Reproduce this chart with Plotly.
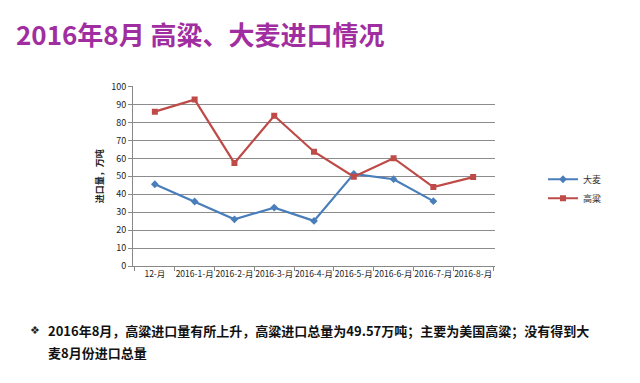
import plotly.graph_objects as go

categories = ["12-月", "2016-1-月", "2016-2-月", "2016-3-月", "2016-4-月",
              "2016-5-月", "2016-6-月", "2016-7-月", "2016-8-月"]
barley = [45.6, 36.0, 26.1, 32.6, 25.2, 51.4, 48.4, 36.2, None]
sorghum = [86.0, 92.7, 57.4, 83.7, 63.7, 49.8, 60.1, 44.0, 49.57]
y_ticks = list(range(0, 101, 10))

W, H = 640, 383
OFF = 8  # page body margin in the browser


def px(x):
    return (x - OFF) / W


def py(y):
    return 1 - (y - OFF) / H


x0, x1 = 133, 495
y_top, y_bot = 82, 268

CJK = "Noto Sans CJK SC"

fig = go.Figure()
fig.add_trace(go.Scatter(
    x=categories, y=barley, name="大麦", mode="lines+markers",
    line=dict(color="#4A7EBB", width=2.2),
    marker=dict(symbol="diamond", size=6, color="#4A7EBB"),
))
fig.add_trace(go.Scatter(
    x=categories, y=sorghum, name="高粱", mode="lines+markers",
    line=dict(color="#BE4B48", width=2.2),
    marker=dict(symbol="square", size=6, color="#BE4B48"),
))

fig.update_layout(
    width=W, height=H,
    margin=dict(l=0, r=0, t=0, b=0),
    paper_bgcolor="white", plot_bgcolor="white",
    font=dict(family=CJK, size=9, color="#333333"),
    xaxis=dict(
        domain=[px(x0), px(x1)],
        type="category", tickson="boundaries",
        showline=True, linecolor="#888888", linewidth=1,
        ticks="outside", ticklen=4, tickcolor="#888888",
        showgrid=False, tickfont=dict(size=8.5, color="#222222"),
        tickangle=0,
    ),
    yaxis=dict(
        domain=[py(y_bot), py(y_top)],
        range=[0, 100], tickvals=y_ticks,
        showline=True, linecolor="#888888", linewidth=1,
        ticks="outside", ticklen=4, tickcolor="#888888",
        showgrid=True, gridcolor="#8c8c8c", gridwidth=1,
        zeroline=False, tickfont=dict(size=9, color="#222222"),
        title=dict(text="<b>进口量，万吨</b>", font=dict(size=9, color="#222222"), standoff=6),
    ),
    legend=dict(
        x=px(543), y=py(163), xanchor="left", yanchor="top",
        font=dict(size=9, color="#333333"), bgcolor="rgba(0,0,0,0)",
        itemwidth=30,
    ),
    showlegend=True,
)

fig.add_annotation(
    xref="paper", yref="paper", x=px(14), y=py(27),
    xanchor="left", yanchor="middle", showarrow=False,
    text="<b>2016年8月 高粱、大麦进口情况</b>",
    font=dict(family=CJK, size=26, color="#A02EA0"),
)
fig.add_annotation(
    xref="paper", yref="paper", x=px(28), y=py(335),
    xanchor="left", yanchor="middle", showarrow=False,
    text="❖", font=dict(family="DejaVu Sans", size=11, color="#222222"),
)
fig.add_annotation(
    xref="paper", yref="paper", x=px(46), y=py(335),
    xanchor="left", yanchor="middle", showarrow=False, align="left",
    text="<b>2016年8月，高粱进口量有所上升，高粱进口总量为49.57万吨；主要为美国高粱；没有得到大</b>",
    font=dict(family=CJK, size=13, color="#111111"),
)
fig.add_annotation(
    xref="paper", yref="paper", x=px(46), y=py(357),
    xanchor="left", yanchor="middle", showarrow=False, align="left",
    text="<b>麦8月份进口总量</b>",
    font=dict(family=CJK, size=13, color="#111111"),
)

fig.write_html("out.html")
